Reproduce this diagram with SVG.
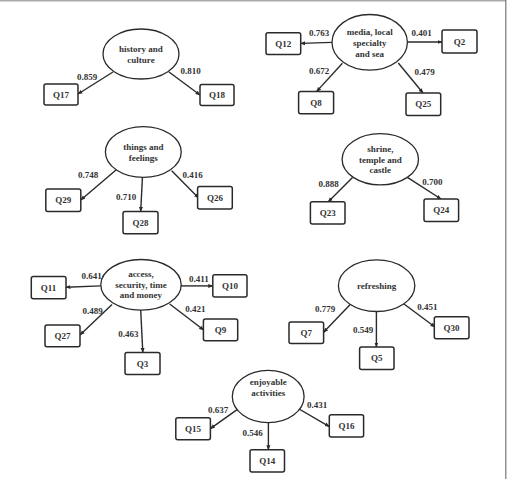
<svg xmlns="http://www.w3.org/2000/svg" width="511" height="479" viewBox="0 0 511 479">
<defs>
<marker id="ah" viewBox="0 0 10 10" refX="9" refY="5" markerWidth="5" markerHeight="5" orient="auto" markerUnits="userSpaceOnUse">
<path d="M0,1 L10,5 L0,9 Z" fill="#2a2a2a"/>
</marker>
</defs>
<style>
.lat ellipse{fill:#fff;stroke:#2a2a2a;stroke-width:1.3}
.obs rect{fill:#fff;stroke:#2a2a2a;stroke-width:1.5}
text{font-family:"Liberation Serif","Times New Roman",serif;font-weight:bold;font-size:9px;fill:#333;text-anchor:middle}
.conn line{stroke:#2a2a2a;stroke-width:1.4;marker-end:url(#ah)}
</style>
<rect x="0" y="0" width="511" height="479" fill="#fff"/>
<line x1="0" y1="0.8" x2="506" y2="0.8" stroke="#aaa" stroke-width="1.6"/>
<line x1="505.8" y1="0" x2="505.8" y2="479" stroke="#777" stroke-width="1.2"/>

<g id="connectors" class="conn">
<line x1="113" y1="72" x2="78" y2="94"/>
<line x1="169" y1="72" x2="200" y2="95"/>
<line x1="332" y1="42.4" x2="300.7" y2="43.4"/>
<line x1="407.4" y1="42" x2="442" y2="42"/>
<line x1="342.4" y1="63.3" x2="316.5" y2="91.6"/>
<line x1="398.3" y1="63" x2="423" y2="93"/>
<line x1="116" y1="170" x2="80.8" y2="200"/>
<line x1="142.4" y1="177.8" x2="140.7" y2="211.4"/>
<line x1="171.7" y1="170.7" x2="198.6" y2="198"/>
<line x1="352.5" y1="177.4" x2="328.3" y2="201.7"/>
<line x1="407.4" y1="177.4" x2="441" y2="199"/>
<line x1="100.7" y1="285.9" x2="66" y2="287.2"/>
<line x1="181" y1="285.9" x2="212.8" y2="285.9"/>
<line x1="112" y1="304.4" x2="80" y2="335"/>
<line x1="140.7" y1="310" x2="142.8" y2="352.5"/>
<line x1="169.7" y1="304" x2="203.7" y2="330"/>
<line x1="350.2" y1="304.4" x2="323.6" y2="332.3"/>
<line x1="376.4" y1="311.4" x2="376.4" y2="347"/>
<line x1="404" y1="304" x2="435" y2="327"/>
<line x1="241.7" y1="406.4" x2="210.4" y2="428.6"/>
<line x1="268.4" y1="413.5" x2="268.4" y2="449.8"/>
<line x1="294" y1="406" x2="329.3" y2="426.6"/>
</g>

<g id="labels">
<text x="87" y="80">0.859</text>
<text x="190.5" y="74">0.810</text>
<text x="319" y="36">0.763</text>
<text x="421.5" y="35.5">0.401</text>
<text x="319" y="74">0.672</text>
<text x="424.6" y="74.5">0.479</text>
<text x="88" y="177.5">0.748</text>
<text x="126" y="199.5">0.710</text>
<text x="192.6" y="178">0.416</text>
<text x="328.6" y="186.5">0.888</text>
<text x="432.3" y="184.8">0.700</text>
<text x="91.6" y="279">0.641</text>
<text x="199" y="281.8">0.411</text>
<text x="92.6" y="313.8">0.489</text>
<text x="128.3" y="337.3">0.463</text>
<text x="195.3" y="312.4">0.421</text>
<text x="325" y="311.8">0.779</text>
<text x="363" y="332.6">0.549</text>
<text x="427.3" y="310">0.451</text>
<text x="218.2" y="412.8">0.637</text>
<text x="252.5" y="436">0.546</text>
<text x="317" y="408.4">0.431</text>
</g>

<g id="history" class="lat"><ellipse cx="141" cy="54" rx="38" ry="25"/><text x="141" y="52">history and</text><text x="141" y="63">culture</text></g>
<g id="media" class="lat"><ellipse cx="369.7" cy="42.3" rx="37.7" ry="27.8"/><text x="369.7" y="35.3">media, local</text><text x="369.7" y="46">specialty</text><text x="369.7" y="56.5">and sea</text></g>
<g id="things" class="lat"><ellipse cx="143.3" cy="152" rx="37.9" ry="25.4"/><text x="143.3" y="150">things and</text><text x="143.3" y="160.6">feelings</text></g>
<g id="shrine" class="lat"><ellipse cx="380.3" cy="159.3" rx="38.2" ry="25.6"/><text x="380.3" y="151.8">shrine,</text><text x="380.3" y="162.6">temple and</text><text x="380.3" y="173.4">castle</text></g>
<g id="access" class="lat"><ellipse cx="141" cy="284.8" rx="40.2" ry="25.3"/><text x="141" y="277">access,</text><text x="141" y="287.8">security, time</text><text x="141" y="298.3">and money</text></g>
<g id="refreshing" class="lat"><ellipse cx="376.6" cy="285.7" rx="38.2" ry="25.8"/><text x="376.6" y="288.9">refreshing</text></g>
<g id="enjoyable" class="lat"><ellipse cx="268.2" cy="396.5" rx="35.9" ry="26.1"/><text x="268.2" y="385">enjoyable</text><text x="268.2" y="395.6">activities</text></g>

<g id="Q17" class="obs"><rect x="44" y="84" width="34" height="21" rx="2"/><text x="61" y="97.5">Q17</text></g>
<g id="Q18" class="obs"><rect x="200" y="84.5" width="34" height="21" rx="2"/><text x="217" y="98">Q18</text></g>
<g id="Q12" class="obs"><rect x="266" y="32.7" width="34.7" height="21.8" rx="2"/><text x="283.3" y="46.6">Q12</text></g>
<g id="Q2" class="obs"><rect x="442" y="30" width="35" height="23" rx="2"/><text x="459.5" y="44.5">Q2</text></g>
<g id="Q8" class="obs"><rect x="298.6" y="91.6" width="35" height="22.2" rx="2"/><text x="316.1" y="105.7">Q8</text></g>
<g id="Q25" class="obs"><rect x="406" y="93" width="34.7" height="22.5" rx="2"/><text x="423.3" y="107.3">Q25</text></g>
<g id="Q29" class="obs"><rect x="45.8" y="189" width="35" height="22.4" rx="2"/><text x="63.3" y="203.2">Q29</text></g>
<g id="Q28" class="obs"><rect x="123" y="211.4" width="35" height="22.3" rx="2"/><text x="140.5" y="225.5">Q28</text></g>
<g id="Q26" class="obs"><rect x="197.6" y="186.5" width="34.7" height="22.5" rx="2"/><text x="214.9" y="200.8">Q26</text></g>
<g id="Q23" class="obs"><rect x="310.4" y="201.7" width="34.6" height="22.3" rx="2"/><text x="327.7" y="215.8">Q23</text></g>
<g id="Q24" class="obs"><rect x="424" y="199" width="34.6" height="22.5" rx="2"/><text x="441.3" y="213.3">Q24</text></g>
<g id="Q11" class="obs"><rect x="31.3" y="276.4" width="34.7" height="22.3" rx="2"/><text x="48.6" y="290.6">Q11</text></g>
<g id="Q10" class="obs"><rect x="212.8" y="274.7" width="34.2" height="22.3" rx="2"/><text x="229.9" y="288.9">Q10</text></g>
<g id="Q27" class="obs"><rect x="45" y="325" width="35" height="21.8" rx="2"/><text x="62.5" y="338.9">Q27</text></g>
<g id="Q3" class="obs"><rect x="125" y="352.5" width="35" height="21.9" rx="2"/><text x="142.5" y="366.5">Q3</text></g>
<g id="Q9" class="obs"><rect x="203.4" y="318.9" width="34.3" height="21.8" rx="2"/><text x="220.5" y="332.8">Q9</text></g>
<g id="Q7" class="obs"><rect x="289" y="322" width="34.6" height="21.4" rx="2"/><text x="306.3" y="335.8">Q7</text></g>
<g id="Q5" class="obs"><rect x="359.6" y="347" width="34.4" height="22.4" rx="2"/><text x="376.8" y="361.2">Q5</text></g>
<g id="Q30" class="obs"><rect x="434.3" y="316.8" width="34.7" height="21.9" rx="2"/><text x="451.6" y="330.8">Q30</text></g>
<g id="Q15" class="obs"><rect x="175.8" y="417.8" width="34.6" height="21.9" rx="2"/><text x="193.1" y="431.8">Q15</text></g>
<g id="Q14" class="obs"><rect x="250" y="449.8" width="34.5" height="22.2" rx="2"/><text x="267.3" y="464">Q14</text></g>
<g id="Q16" class="obs"><rect x="329.3" y="414.8" width="34.3" height="22.2" rx="2"/><text x="346.5" y="429">Q16</text></g>
</svg>
